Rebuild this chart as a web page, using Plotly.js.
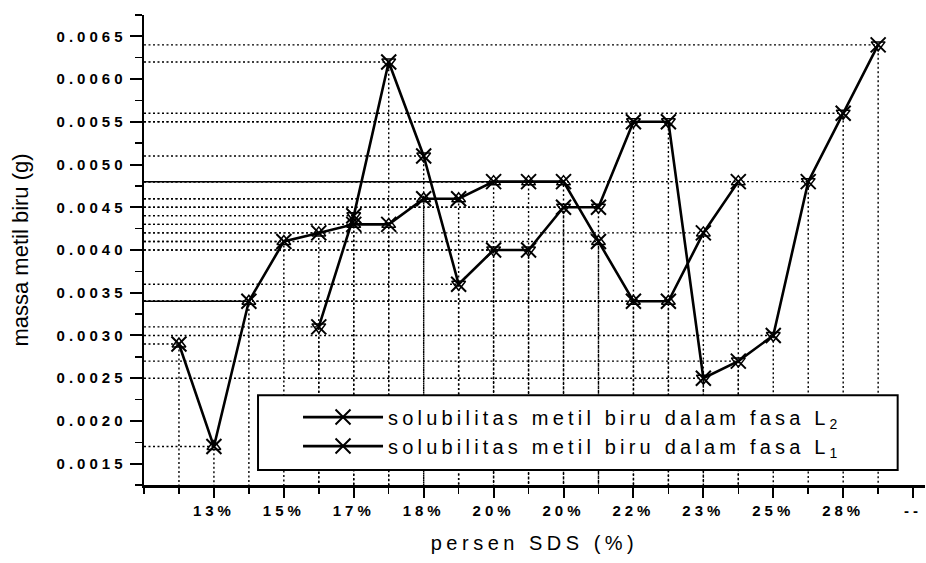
<!DOCTYPE html>
<html>
<head>
<meta charset="utf-8">
<script src="https://cdn.plot.ly/plotly-3.0.1.min.js"></script>
<style>
  html, body { margin: 0; padding: 0; background: #fff; }
  #chart { width: 926px; height: 563px; }
  .xtick text, .ytick text { letter-spacing: 4px; }
  .legendtext { letter-spacing: 4.2px; }
  .g-xtitle text { letter-spacing: 4.5px; }
</style>
</head>
<body>
<div id="chart"></div>
<script>
// ---- data ----
const tickLabels = ['13%', '15%', '17%', '18%', '20%', '20%', '22%', '23%', '25%', '28%', '--'];

// series "L2" (X with upward triangle)
const xL2 = [1, 2, 3, 4, 5, 6, 7, 8, 9, 10, 11, 12, 13, 14, 15, 16, 17];
const yL2 = [0.0029, 0.0017, 0.0034, 0.0041, 0.0042, 0.0043, 0.0043, 0.0046, 0.0046,
             0.0048, 0.0048, 0.0048, 0.0041, 0.0034, 0.0034, 0.0042, 0.0048];

// series "L1" (X with downward triangle)
const xL1 = [5, 6, 7, 8, 9, 10, 11, 12, 13, 14, 15, 16, 17, 18, 19, 20, 21];
const yL1 = [0.0031, 0.0044, 0.0062, 0.0051, 0.0036, 0.0040, 0.0040, 0.0045, 0.0045,
             0.0055, 0.0055, 0.0025, 0.0027, 0.0030, 0.0048, 0.0056, 0.0064];

const nameL2 = 'solubilitas metil biru dalam fasa L<sub>2</sub>';
const nameL1 = 'solubilitas metil biru dalam fasa L<sub>1</sub>';

// ---- layout constants ----
const Y_RANGE = [0.00125, 0.00675];
const X_RANGE = [0, 22.34];
const tickVals = tickLabels.map((_, i) => 2 * (i + 1));

// drop lines (horizontal to the y axis, vertical to the x axis)
function dropLines(xs, ys) {
  const x = [], y = [];
  xs.forEach((xi, i) => {
    x.push(X_RANGE[0], xi, xi, null);
    y.push(ys[i], ys[i], Y_RANGE[0], null);
  });
  return { x, y };
}
const dL2 = dropLines(xL2, yL2);
const dL1 = dropLines(xL1, yL1);

// where several drop lines share a level they merge into a solid line
function mergedLines() {
  const groups = {};
  xL2.forEach((x, i) => { const k = yL2[i].toFixed(5); (groups[k] = groups[k] || []).push(x); });
  xL1.forEach((x, i) => { const k = yL1[i].toFixed(5); (groups[k] = groups[k] || []).push(x); });
  const x = [], y = [];
  Object.keys(groups).forEach(k => {
    const xs = groups[k].slice().sort((a, b) => b - a);
    if (xs.length >= 3) {
      x.push(X_RANGE[0], xs[2], null);
      y.push(parseFloat(k), parseFloat(k), null);
    }
  });
  return { x, y };
}
const merged = mergedLines();

const dotted = { color: '#000', width: 1.4, dash: '2px,2.5px' };

const traces = [
  { x: dL2.x, y: dL2.y, mode: 'lines', line: dotted, showlegend: false, hoverinfo: 'skip' },
  { x: dL1.x, y: dL1.y, mode: 'lines', line: dotted, showlegend: false, hoverinfo: 'skip' },
  { x: merged.x, y: merged.y, mode: 'lines', line: { color: '#000', width: 1.5 }, showlegend: false, hoverinfo: 'skip' },
  {
    x: xL2, y: yL2, name: nameL2, mode: 'lines+markers',
    line: { color: '#000', width: 2.6 },
    marker: { symbol: 'x-thin-open', size: 15, color: '#000', line: { color: '#000', width: 2 } }
  },
  {
    x: xL2, y: yL2, mode: 'markers', showlegend: false, hoverinfo: 'skip', type: 'scatter',
    marker: { symbol: 'triangle-up-open', size: 12, color: '#000', line: { color: '#000', width: 1.5 } }
  },
  {
    x: xL1, y: yL1, name: nameL1, mode: 'lines+markers',
    line: { color: '#000', width: 2.6 },
    marker: { symbol: 'x-thin-open', size: 15, color: '#000', line: { color: '#000', width: 2 } }
  },
  {
    x: xL1, y: yL1, mode: 'markers', showlegend: false, hoverinfo: 'skip', type: 'scatter',
    marker: { symbol: 'triangle-down-open', size: 12, color: '#000', line: { color: '#000', width: 1.5 } }
  }
];

const tickFont = { family: 'Liberation Sans, Arial, sans-serif', size: 15, color: '#000', weight: 'bold' };

const layout = {
  width: 926, height: 563,
  margin: { l: 144, r: 1, t: 15, b: 78 },
  paper_bgcolor: '#fff', plot_bgcolor: '#fff',
  font: { family: 'Liberation Sans, Arial, sans-serif', color: '#000' },
  xaxis: {
    range: X_RANGE,
    tickmode: 'array', tickvals: tickVals, ticktext: tickLabels,
    ticks: 'outside', ticklen: 10, tickwidth: 2, tickcolor: '#000',
    minor: { tickmode: 'linear', tick0: 0, dtick: 1, ticks: 'outside', ticklen: 6, tickwidth: 1.5, tickcolor: '#000', showgrid: false },
    showline: true, linecolor: '#000', linewidth: 2.5,
    showgrid: false, zeroline: false,
    tickfont: tickFont,
    title: { text: 'persen SDS (%)', font: { family: 'Liberation Sans, Arial, sans-serif', size: 20, color: '#000' }, standoff: 19 }
  },
  yaxis: {
    range: Y_RANGE,
    tick0: 0, dtick: 0.0005, tickformat: '.4f',
    ticks: 'outside', ticklen: 12, tickwidth: 2, tickcolor: '#000',
    minor: { tick0: 0, dtick: 0.00025, ticks: 'outside', ticklen: 7, tickwidth: 1.5, tickcolor: '#000', showgrid: false },
    showline: true, linecolor: '#000', linewidth: 2.5,
    showgrid: false, zeroline: false,
    tickfont: tickFont,
    title: { text: 'massa metil biru (g)', font: { family: 'Liberation Sans, Arial, sans-serif', size: 22, color: '#000' }, standoff: 22 }
  },
  shapes: [{
    type: 'rect', xref: 'paper', yref: 'paper', layer: 'above',
    x0: 0.146, x1: 0.965, y0: 0.032, y1: 0.191,
    fillcolor: '#fff', line: { color: '#000', width: 2 }
  }],
  legend: {
    x: 0.146, y: 0.186, xanchor: 'left', yanchor: 'top',
    bgcolor: 'rgba(0,0,0,0)', borderwidth: 0,
    itemwidth: 80, indentation: 40,
    font: { family: 'Liberation Sans, Arial, sans-serif', size: 20, color: '#000' }
  },
  showlegend: true
};

Plotly.newPlot('chart', traces, layout, { displayModeBar: false, staticPlot: true });
</script>
</body>
</html>
